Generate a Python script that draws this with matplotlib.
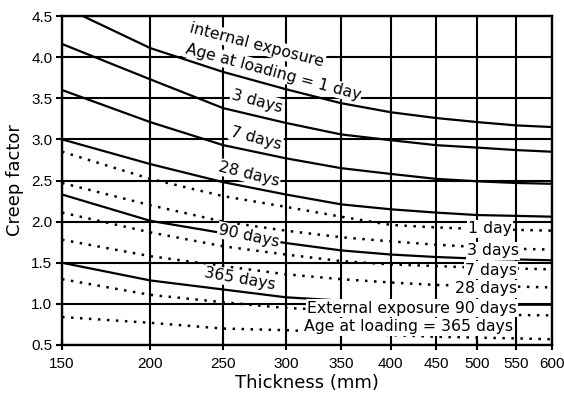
import matplotlib
matplotlib.use("Agg")
import matplotlib.pyplot as plt

plt.rcParams['font.family'] = ['DejaVu Sans']

thickness = [150, 200, 250, 300, 350, 400, 450, 500, 550, 600]

# internal exposure (solid)
int_1 = [4.62, 4.11, 3.82, 3.61, 3.44, 3.33, 3.26, 3.21, 3.17, 3.15]
int_3 = [4.16, 3.73, 3.38, 3.20, 3.06, 2.99, 2.93, 2.90, 2.87, 2.85]
int_7 = [3.60, 3.21, 2.93, 2.77, 2.65, 2.58, 2.52, 2.49, 2.47, 2.46]
int_28 = [3.00, 2.70, 2.48, 2.33, 2.21, 2.15, 2.11, 2.08, 2.07, 2.06]
int_90 = [2.33, 2.01, 1.86, 1.74, 1.65, 1.60, 1.57, 1.55, 1.54, 1.53]
int_365 = [1.50, 1.285, 1.175, 1.08, 1.04, 1.02, 1.01, 1.00, 0.99, 0.99]

# external exposure (dotted)
ext_1 = [2.85, 2.52, 2.31, 2.18, 2.06, 1.96, 1.93, 1.91, 1.90, 1.89]
ext_3 = [2.47, 2.20, 2.00, 1.89, 1.81, 1.76, 1.72, 1.69, 1.67, 1.66]
ext_7 = [2.11, 1.87, 1.70, 1.60, 1.52, 1.48, 1.46, 1.44, 1.43, 1.42]
ext_28 = [1.78, 1.58, 1.46, 1.36, 1.30, 1.26, 1.23, 1.22, 1.21, 1.20]
ext_90 = [1.30, 1.11, 1.02, 0.95, 0.92, 0.90, 0.88, 0.87, 0.865, 0.86]
ext_365 = [0.84, 0.77, 0.70, 0.68, 0.65, 0.62, 0.60, 0.59, 0.58, 0.57]

yticks = [0.5, 1.0, 1.5, 2.0, 2.5, 3.0, 3.5, 4.0, 4.5]


def fwd(x):
    return x ** 0.25


def inv(y):
    return y ** 4


# axes box in pixels: left 62, right 552, top 16, bottom 345
def at(px, py):
    return (px - 62) / 490.0, (345 - py) / 329.0


fig = plt.figure(figsize=(5.64, 3.94), dpi=100)
ax = fig.add_axes([62 / 564, 49 / 394, 490 / 564, 329 / 394])
ax.set_xscale('function', functions=(fwd, inv))
ax.set_xlim(150, 600)
ax.set_ylim(0.5, 4.5)
ax.set_xticks(thickness)
ax.set_xticklabels([str(t) for t in thickness])
ax.set_yticks(yticks)
ax.set_yticklabels(['%.1f' % v for v in yticks])
ax.minorticks_off()
for t in ax.get_xticklabels() + ax.get_yticklabels():
    t.set_family('Liberation Sans')

ax.grid(True, color='black', linewidth=1.5)
for s in ax.spines.values():
    s.set_linewidth(1.7)
ax.tick_params(axis='x', direction='inout', length=7, width=1.5,
               labelsize=11, pad=5)
ax.tick_params(axis='y', direction='out', length=4, width=1.5,
               labelsize=11, pad=3)

for ys in [int_1, int_3, int_7, int_28, int_90, int_365]:
    ax.plot(thickness, ys, color='black', linewidth=1.6, zorder=3)
for ys in [ext_1, ext_3, ext_7, ext_28, ext_90, ext_365]:
    ax.plot(thickness, ys, color='black', linewidth=1.8, zorder=3,
            linestyle=(0, (1, 2.6)), dash_capstyle='butt')

box = dict(facecolor='white', edgecolor='none', pad=0.8)
fs = 11.3


def label(px, py, s, rot=0):
    x, y = at(px, py)
    ax.text(x, y, s, transform=ax.transAxes, rotation=rot, fontsize=fs,
            ha='center', va='center', rotation_mode='anchor',
            bbox=box, zorder=5)


label(257, 45, 'internal exposure', -14.5)
label(273, 72, 'Age at loading = 1 day', -15)
label(257, 101, '3 days', -15)
label(256, 138, '7 days', -15)
label(249, 174, '28 days', -14)
label(249, 236, '90 days', -12)
label(240, 279, '365 days', -10)

label(490, 229, '1 day')
label(493, 251, '3 days')
label(491, 270, '7 days')
label(486, 289, '28 days')
label(412, 308, 'External exposure 90 days')
label(408, 327, 'Age at loading = 365 days')

ax.set_xlabel('Thickness (mm)', fontsize=13, labelpad=2)
ax.set_ylabel('Creep factor', fontsize=13, labelpad=5)

fig.savefig('out.png', dpi=100)
